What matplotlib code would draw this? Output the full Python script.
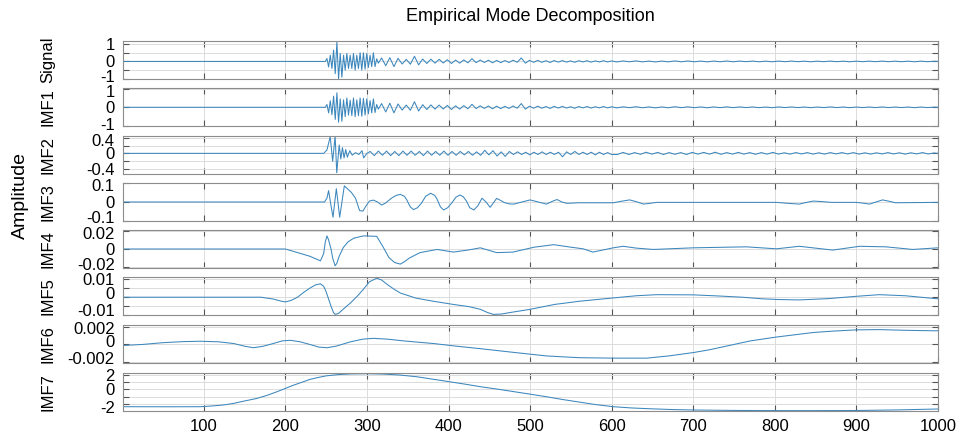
import numpy as np
import matplotlib
matplotlib.use("Agg")
import matplotlib.pyplot as plt
from matplotlib.transforms import ScaledTranslation

plt.rcParams['font.family'] = ['Liberation Sans', 'DejaVu Sans']

# =========================================================
# DATA (extrema / shape points)
# =========================================================

# Signal: flat, then burst, then decaying ripple
sig_burst = [0.17, -0.32, 0.36, -0.41, 0.66, -0.71, 1.14, -1.0, 0.46, -0.91,
             0.36, -0.5, 0.46, -0.41, 0.36, -0.41, 0.46, -0.5, 0.36, -0.41,
             0.5, -0.5, 0.5, -0.45, 0.46, -0.35, 0.36, -0.3, 0.5, -0.3,
             0.15, -0.1]
sig_mid = [0.2, -0.25, 0.22, -0.3, 0.18,
           -0.15, 0.12, -0.16, 0.3, -0.2, 0.14, -0.12, 0.13,
           -0.1, 0.12, -0.09, 0.1, -0.12, 0.08, -0.1, 0.09, -0.08, 0.16,
           -0.07, 0.08, -0.06, 0.07, -0.08, 0.06, -0.07, 0.05, -0.06, 0.07,
           -0.05, 0.2, -0.1, 0.06,
           -0.05, 0.06, -0.05, 0.04, -0.06, 0.05, -0.04, 0.05, -0.04, 0.03,
           -0.05, 0.04, -0.03, 0.04, -0.04, 0.03, -0.03, 0.04, -0.03, 0.03]
sig_tail = [-0.03, 0.025, -0.02, 0.03, -0.025, 0.02, -0.03, 0.02, -0.025, 0.03,
            -0.02, 0.025, -0.02, 0.02, -0.025, 0.02, -0.02, 0.025, -0.02, 0.02,
            -0.015, 0.02, -0.02, 0.015, -0.02, 0.02, -0.015, 0.02, -0.015, 0.015,
            -0.02, 0.015, -0.015, 0.02, -0.015, 0.015, -0.02, 0.015, -0.015, 0.015,
            -0.015, 0.02, -0.015, 0.015, -0.015, 0.015, -0.02, 0.015, -0.015, 0.01]

# IMF1 looks like the signal with a smaller main spike
imf1_burst = [0.15, -0.3, 0.35, -0.4, 0.6, -0.65, 0.78, -0.8, 0.45, -0.75,
              0.4, -0.5, 0.5, -0.42, 0.38, -0.45, 0.5, -0.5, 0.4, -0.45,
              0.5, -0.48, 0.48, -0.42, 0.45, -0.35, 0.36, -0.3, 0.45, -0.28,
              0.15, -0.1]
imf1_mid = list(sig_mid)
imf1_tail = list(sig_tail)

# IMF2
imf2_t_burst = [1, 247, 251, 255, 258, 261, 263, 266, 268, 270, 272, 274, 276,
                279, 282, 286, 290, 294, 296, 300]
imf2_burst = [0, 0, 0.09, 0.44, -0.21, 0.46, -0.51, 0.22, -0.15, 0.15, -0.12,
              0.1, -0.1, 0.07, -0.05, 0.02, -0.03, 0.07, -0.12, 0.0]
imf2_mid = [0.05, -0.06, 0.06, -0.05, 0.06, -0.06, 0.05, -0.06, 0.06, -0.05,
            0.06, -0.05, 0.05, -0.06, 0.06, -0.05, 0.05, -0.05, 0.06, -0.05,
            0.05, -0.05, 0.05, -0.04, 0.05, -0.05, 0.04, -0.05, 0.08, -0.04,
            0.07, -0.07, 0.04, -0.08, 0.05, -0.03, 0.04, -0.03, 0.03, -0.04,
            0.03, -0.03, 0.04, -0.03, 0.03, -0.03, 0.03, -0.09, 0.04, -0.03,
            0.05, -0.03, 0.03, -0.03, 0.03, -0.04, 0.03, -0.03, 0.02, -0.03]
imf2_tail = [-0.03, 0.025, -0.03, 0.02, -0.025, 0.03, -0.02, 0.025, -0.03, 0.02,
             -0.025, 0.02, -0.03, 0.025, -0.02, 0.025, -0.02, 0.03, -0.025, 0.02,
             -0.02, 0.025, -0.02, 0.02, -0.025, 0.02, -0.02, 0.025, -0.02, 0.015,
             -0.02, 0.02, -0.015, 0.02, -0.02, 0.015, -0.02, 0.02, -0.015, 0.02,
             -0.015, 0.02, -0.02, 0.015, -0.02, 0.015, -0.015, 0.02, -0.015, 0.015,
             -0.02, 0.015, -0.015, 0.02, -0.015, 0.01]

# IMF3
imf3_t = [1, 243, 248, 251, 253, 256, 258.4, 262.5, 266.6, 272.3,
          276, 281, 286, 291, 295, 299, 303, 308, 313, 318, 323,
          330, 336, 341, 346, 349, 353, 357, 362, 367, 372, 378, 383, 386, 390,
          394, 399, 404, 409, 414, 418, 422, 426, 431, 436, 441, 446, 451, 455,
          459, 464, 469, 475, 480, 490, 500, 510, 520, 527, 533, 539, 545, 560,
          602, 612, 622, 630, 639, 647, 655, 700, 802, 816, 830, 838, 847, 858,
          870, 900, 908, 916, 924, 932, 940, 948, 1000]
imf3 = [0, 0, 0.0, 0.02, 0.06, -0.02, -0.08, 0.07, -0.08, 0.085,
        0.07, 0.05, 0.02, -0.045, -0.048, -0.02, 0.005, 0.01, 0.0, -0.016, -0.005,
        0.02, 0.035, 0.04, 0.03, 0.01, -0.025, -0.04, -0.03, -0.005, 0.03, 0.046,
        0.035, 0.015, -0.025,
        -0.042, -0.03, -0.005, 0.025, 0.037, 0.028, 0.005, -0.03, -0.042, -0.02,
        0.02, 0.0, -0.028, -0.005,
        0.019, 0.008, -0.004, -0.01, -0.011, 0.0, 0.011, 0.0, -0.011, 0.003,
        0.013, 0.0, -0.007, -0.004,
        -0.004, 0.004, 0.011, 0.002, -0.011, -0.007, -0.002, -0.002, -0.002,
        -0.007, -0.011, -0.003, 0.005, 0.002,
        -0.002, -0.002, -0.006, -0.011, 0.0, 0.011, 0.004, -0.004, -0.002]

# IMF4
imf4_t = [1, 200, 215, 230, 243, 247, 249, 251, 253, 256, 258, 261, 263, 266,
          271, 277, 284, 296, 312, 320, 327, 334, 341, 346, 352, 365, 386, 406,
          425, 439, 459, 479, 505, 529, 550, 565, 577, 602, 614, 630, 651, 700,
          765, 802, 830, 871, 904, 936, 969, 1000]
imf4 = [0, 0.0, -0.004, -0.008, -0.0131, -0.005, 0.008, 0.0145, 0.01, 0.0,
        -0.01, -0.0185, -0.016, -0.008, 0.0016, 0.008, 0.012, 0.0145, 0.014,
        0.002, -0.0095, -0.015, -0.0167, -0.014, -0.01, -0.004, -0.0005,
        -0.0034, -0.001, 0.0013, -0.004, -0.0034, 0.002, 0.0048, 0.002, 0.0002,
        -0.0034, 0.0013, 0.003, 0.001, -0.0005, 0.0013, 0.0024, 0.0002, 0.003,
        -0.0012, 0.003, 0.0024, -0.0005, 0.0013]

# IMF5
imf5_t = [1, 170, 185, 195, 200, 207, 215, 222, 230, 237, 243, 247, 250, 253,
          256, 259, 261, 265, 270, 280, 288, 295, 303, 312, 318, 325, 333, 341,
          360, 381, 406, 425, 439, 448, 455, 465, 475, 500, 530, 561, 602, 630,
          655, 700, 730, 760, 785, 806, 830, 865, 900, 928, 960, 1000]
imf5 = [0, 0, -0.001, -0.0022, -0.0026, -0.0018, 0.0, 0.0025, 0.005, 0.0068,
        0.0074, 0.006, 0.003, -0.001, -0.005, -0.0085, -0.0095, -0.009, -0.007,
        -0.0031, 0.0005, 0.004, 0.0085, 0.0105, 0.0095, 0.007, 0.0045, 0.0023,
        -0.0005, -0.0022, -0.004, -0.0052, -0.0067, -0.0085, -0.0095, -0.0093,
        -0.0085, -0.0067, -0.004, -0.0022, -0.0004, 0.0008, 0.0014, 0.0013,
        0.0007, 0.0, -0.0009, -0.0013, -0.0015, -0.0008, 0.0005, 0.0014,
        0.0008, -0.0009]

# IMF6
imf6_t = [1, 25, 50, 75, 96, 118, 137, 150, 161, 173, 185, 196, 206, 218, 230,
          241, 251, 262, 280, 295, 308, 325, 345, 382, 410, 439, 480, 520, 560,
          602, 643, 670, 700, 720, 745, 770, 802, 825, 847, 870, 900, 928, 960,
          1000]
imf6 = [-0.00012, 0.0, 0.0002, 0.00032, 0.00036, 0.0003, 0.0001, -0.0002,
        -0.00037, -0.0002, 0.0001, 0.0004, 0.00047, 0.0003, 0.0, -0.0003,
        -0.00037, -0.0002, 0.0003, 0.0006, 0.00069, 0.0006, 0.0004, 0.0001,
        -0.0002, -0.00048, -0.0009, -0.0013, -0.0015, -0.00155, -0.00155,
        -0.0013, -0.00092, -0.0006, -0.0001, 0.0004, 0.00084, 0.0011, 0.00135,
        0.0015, 0.00165, 0.00168, 0.0016, 0.00154]

# IMF7
imf7_t = [1, 60, 96, 110, 125, 137, 150, 165, 178, 190, 200, 210, 220, 230, 239,
          250, 265, 280, 300, 320, 340, 361, 380, 400, 420, 439, 460, 480, 500,
          520, 540, 560, 580, 602, 625, 650, 675, 700, 750, 806, 850, 900, 950,
          1000]
imf7 = [-2.40, -2.41, -2.40, -2.3, -2.15, -1.93, -1.6, -1.25, -0.8, -0.3, 0.15,
        0.6, 1.0, 1.4, 1.65, 1.9, 2.08, 2.17, 2.2, 2.15, 2.02, 1.78, 1.45, 1.1,
        0.75, 0.39, 0.05, -0.3, -0.65, -1.01, -1.4, -1.75, -2.1, -2.40, -2.58,
        -2.7, -2.8, -2.86, -2.92, -2.95, -2.95, -2.93, -2.85, -2.72]

names = ["Signal", "IMF1", "IMF2", "IMF3", "IMF4", "IMF5", "IMF6", "IMF7"]
xticks = [100, 200, 300, 400, 500, 600, 700, 800, 900, 1000]


# =========================================================
# BUILD SERIES
# =========================================================

def stitch(flat_end, burst, b0, b1, mid, m0, m1, tail, t0, t1):
    t = np.concatenate([[1, flat_end], np.linspace(b0, b1, len(burst)),
                        np.linspace(m0, m1, len(mid)), np.linspace(t0, t1, len(tail)), [1000]])
    y = np.concatenate([[0, 0], burst, mid, tail, [0]])
    return t, y


sig_t, sig_y = stitch(249, sig_burst, 251, 314, sig_mid, 318, 600, sig_tail, 606, 995)
imf1_t, imf1_y = stitch(249, imf1_burst, 251, 314, imf1_mid, 318, 600, imf1_tail, 606, 995)
imf2_t = np.concatenate([imf2_t_burst, np.linspace(304, 600, len(imf2_mid)),
                         np.linspace(607, 995, len(imf2_tail)), [1000]])
imf2_y = np.concatenate([imf2_burst, imf2_mid, imf2_tail, [0]])

series = [(sig_t, sig_y), (imf1_t, imf1_y), (imf2_t, imf2_y), (imf3_t, imf3),
          (imf4_t, imf4), (imf5_t, imf5), (imf6_t, imf6), (imf7_t, imf7)]

ylims = [(-1.0, 1.2), (-1.02, 1.02), (-0.53, 0.47), (-0.1, 0.1),
         (-0.021, 0.021), (-0.0100, 0.0110), (-0.0021, 0.0022), (-3.0, 2.3)]
yticks = [[-1, -0.5, 0, 0.5, 1], [-1, 0, 1], [-0.4, -0.2, 0, 0.2, 0.4],
          [-0.1, 0, 0.1], [-0.02, 0, 0.02], [-0.01, -0.005, 0, 0.005, 0.01],
          [-0.002, 0, 0.002], [-2, -1, 0, 1, 2]]
ytlabels = [["-1", "", "0", "", "1"], ["-1", "0", "1"], ["-0.4", "", "0", "", "0.4"],
            ["-0.1", "0", "0.1"], ["-0.02", "0", "0.02"], ["-0.01", "", "0", "", "0.01"],
            ["-0.002", "0", "0.002"], ["-2", "", "0", "", "2"]]

# small vertical nudges (px, up = +) of the bottom / zero / top tick labels
nudges = [(3, 0, 0), (2, 0, -2), (0, 0, -2), (4, 0, -2),
          (3, 0, -2), (5, 4, 0), (4.5, 3, -1), (-3, 0, 0)]


# =========================================================
# PLOT
# =========================================================

W, H = 963, 445
fig = plt.figure(figsize=(W / 100, H / 100), dpi=100)

tops = [40.7, 88.3, 135.5, 183, 230, 277.3, 325, 373]
left_px, right_px, h_px = 123, 938, 38

line_col = "#3b87bd"
for i, (t, y) in enumerate(series):
    ax = fig.add_axes([left_px / W, 1 - (tops[i] + h_px) / H,
                       (right_px - left_px) / W, h_px / H])
    ax.plot(t, y, color=line_col, lw=0.75)
    ax.set_xlim(1, 1000)
    ax.set_ylim(*ylims[i])
    ax.set_xticks(xticks)
    ax.set_yticks(yticks[i])
    ax.set_yticklabels(ytlabels[i])
    if i < len(series) - 1:
        ax.set_xticklabels([])
    ax.grid(True, color="#dcdcdc", lw=0.7)
    ax.tick_params(direction="in", length=4, color="#555555", labelsize=12,
                   top=True, right=True, pad=6)
    for sp in ax.spines.values():
        sp.set_color("#8c8c8c")
        sp.set_linewidth(0.8)
    ax.set_ylabel(names[i], fontsize=12)
    ax.yaxis.set_label_coords(-0.083, 0.5)

    ticks = ax.yaxis.get_major_ticks()
    lo, mid, hi = nudges[i]
    for k, tk in enumerate(ticks):
        v = yticks[i][k]
        dy = lo if k == 0 else (hi if k == len(ticks) - 1 else (mid if v == 0 else 0))
        tk.label1.set_transform(tk.label1.get_transform() +
                                ScaledTranslation(0, dy / 100, fig.dpi_scale_trans))

fig.text(0.551, 0.962, "Empirical Mode Decomposition", ha="center", va="center", fontsize=13)
fig.text(0.021, 0.56, "Amplitude", rotation=90, ha="center", va="center", fontsize=14)

fig.savefig("out.png", dpi=100)
plt.close()
